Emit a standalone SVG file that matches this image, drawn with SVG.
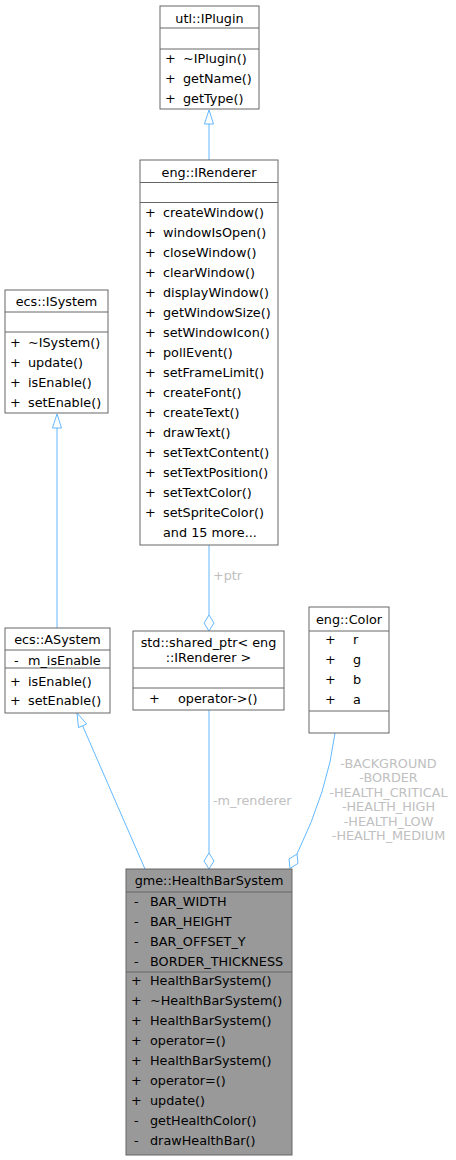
<svg xmlns="http://www.w3.org/2000/svg" width="456" height="1160" viewBox="0 0 456 1160">
<style>
text{font-family:"DejaVu Sans","Liberation Sans",sans-serif;font-size:12.8px;fill:#000}
.c{text-anchor:middle}
.box{fill:#fff;stroke:#666;stroke-width:1}
.cur{fill:#999;stroke:#666;stroke-width:1}
.sep{stroke:#666;stroke-width:1}
.e{fill:none;stroke:#63b8ff;stroke-width:1}
.ah{fill:#fff;stroke:#63b8ff;stroke-width:1}
.lbl{fill:#c0c0c0;text-anchor:middle}
.lbs{fill:#c0c0c0}
</style>
<g id="connectors">
  <line class="e" x1="209" y1="160" x2="209" y2="124"/>
  <polygon class="ah" points="209,110 213.5,124 204.5,124"/>
  <line class="e" x1="57" y1="628" x2="57" y2="428"/>
  <polygon class="ah" points="57,414 61.5,428 52.5,428"/>
  <line class="e" x1="145" y1="869" x2="82.6" y2="725.8"/>
  <polygon class="ah" points="77,713 86.7,724 78.5,727.6"/>
  <line class="e" x1="209" y1="545" x2="209" y2="615"/>
  <polygon class="ah" points="209,631 214,623 209,615 204,623"/>
  <text class="lbs" x="213" y="579.5">+ptr</text>
  <line class="e" x1="209" y1="710" x2="209" y2="853"/>
  <polygon class="ah" points="209,869 214,861 209,853 204,861"/>
  <text class="lbs" x="213" y="804.5">-m_renderer</text>
  <path class="e" d="M335,733 Q328,790 297,854"/>
  <polygon class="ah" points="297,854 298,863.4 290,868.4 289,859"/>
  <text class="lbl" x="388.5" y="767.5">-BACKGROUND</text>
  <text class="lbl" x="388.5" y="781.5">-BORDER</text>
  <text class="lbl" x="388.5" y="796.5">-HEALTH_CRITICAL</text>
  <text class="lbl" x="388.5" y="810.5">-HEALTH_HIGH</text>
  <text class="lbl" x="388.5" y="825.5">-HEALTH_LOW</text>
  <text class="lbl" x="388.5" y="839.5">-HEALTH_MEDIUM</text>
</g>
<g id="IPlugin">
  <rect class="box" x="160" y="6" width="99" height="103"/>
  <line class="sep" x1="160" y1="28" x2="259" y2="28"/>
  <line class="sep" x1="160" y1="49" x2="259" y2="49"/>
  <text class="c" x="209.5" y="22.5">utl::IPlugin</text>
  <text x="165" y="62.5">+</text><text x="183" y="62.5">~IPlugin()</text>
  <text x="165" y="82.5">+</text><text x="183" y="82.5">getName()</text>
  <text x="165" y="102.5">+</text><text x="183" y="102.5">getType()</text>
</g>
<g id="IRenderer">
  <rect class="box" x="140" y="160" width="138" height="385"/>
  <line class="sep" x1="140" y1="182.5" x2="278" y2="182.5"/>
  <line class="sep" x1="140" y1="202.5" x2="278" y2="202.5"/>
  <text class="c" x="209" y="177">eng::IRenderer</text>
  <text x="145" y="216.5">+</text><text x="163" y="216.5">createWindow()</text>
  <text x="145" y="236.5">+</text><text x="163" y="236.5">windowIsOpen()</text>
  <text x="145" y="256.5">+</text><text x="163" y="256.5">closeWindow()</text>
  <text x="145" y="276.5">+</text><text x="163" y="276.5">clearWindow()</text>
  <text x="145" y="296.5">+</text><text x="163" y="296.5">displayWindow()</text>
  <text x="145" y="316.5">+</text><text x="163" y="316.5">getWindowSize()</text>
  <text x="145" y="336.5">+</text><text x="163" y="336.5">setWindowIcon()</text>
  <text x="145" y="356.5">+</text><text x="163" y="356.5">pollEvent()</text>
  <text x="145" y="376.5">+</text><text x="163" y="376.5">setFrameLimit()</text>
  <text x="145" y="396.5">+</text><text x="163" y="396.5">createFont()</text>
  <text x="145" y="416.5">+</text><text x="163" y="416.5">createText()</text>
  <text x="145" y="436.5">+</text><text x="163" y="436.5">drawText()</text>
  <text x="145" y="456.5">+</text><text x="163" y="456.5">setTextContent()</text>
  <text x="145" y="476.5">+</text><text x="163" y="476.5">setTextPosition()</text>
  <text x="145" y="496.5">+</text><text x="163" y="496.5">setTextColor()</text>
  <text x="145" y="516.5">+</text><text x="163" y="516.5">setSpriteColor()</text>
  <text x="163" y="536.5">and 15 more...</text>
</g>
<g id="ISystem">
  <rect class="box" x="5" y="290" width="103" height="123"/>
  <line class="sep" x1="5" y1="312" x2="108" y2="312"/>
  <line class="sep" x1="5" y1="332" x2="108" y2="332"/>
  <text class="c" x="56.5" y="306">ecs::ISystem</text>
  <text x="10" y="346.5">+</text><text x="28" y="346.5">~ISystem()</text>
  <text x="10" y="366.5">+</text><text x="28" y="366.5">update()</text>
  <text x="10" y="386.5">+</text><text x="28" y="386.5">isEnable()</text>
  <text x="10" y="406.5">+</text><text x="28" y="406.5">setEnable()</text>
</g>
<g id="ASystem">
  <rect class="box" x="5" y="628" width="105" height="85"/>
  <line class="sep" x1="5" y1="650" x2="110" y2="650"/>
  <line class="sep" x1="5" y1="668" x2="110" y2="668"/>
  <text class="c" x="57.5" y="644">ecs::ASystem</text>
  <text x="14" y="664.5">-</text><text x="28" y="664.5">m_isEnable</text>
  <text x="10" y="685.5">+</text><text x="28" y="685.5">isEnable()</text>
  <text x="10" y="704.5">+</text><text x="28" y="704.5">setEnable()</text>
</g>
<g id="SharedPtr">
  <rect class="box" x="133" y="631" width="151" height="79"/>
  <line class="sep" x1="133" y1="668" x2="284" y2="668"/>
  <line class="sep" x1="133" y1="688" x2="284" y2="688"/>
  <text class="c" x="208.5" y="646.5">std::shared_ptr&lt; eng</text>
  <text class="c" x="208.5" y="661.5">::IRenderer &gt;</text>
  <text x="149" y="702.5">+</text><text x="178" y="702.5">operator-&gt;()</text>
</g>
<g id="Color">
  <rect class="box" x="309" y="607" width="80" height="126"/>
  <line class="sep" x1="309" y1="631" x2="389" y2="631"/>
  <line class="sep" x1="309" y1="711" x2="389" y2="711"/>
  <text class="c" x="349" y="623.5">eng::Color</text>
  <text x="325" y="643.5">+</text><text x="353" y="643.5">r</text>
  <text x="325" y="663.5">+</text><text x="353" y="663.5">g</text>
  <text x="325" y="683.5">+</text><text x="353" y="683.5">b</text>
  <text x="325" y="703.5">+</text><text x="353" y="703.5">a</text>
</g>
<g id="HealthBarSystem">
  <rect class="cur" x="126" y="869" width="166" height="286"/>
  <line class="sep" x1="126" y1="892" x2="292" y2="892"/>
  <line class="sep" x1="126" y1="972" x2="292" y2="972"/>
  <text class="c" x="209" y="885">gme::HealthBarSystem</text>
  <text x="134" y="905.5">-</text><text x="150" y="905.5">BAR_WIDTH</text>
  <text x="134" y="925.5">-</text><text x="150" y="925.5">BAR_HEIGHT</text>
  <text x="134" y="945.5">-</text><text x="150" y="945.5">BAR_OFFSET_Y</text>
  <text x="134" y="965.5">-</text><text x="150" y="965.5">BORDER_THICKNESS</text>
  <text x="131" y="984.5">+</text><text x="150" y="984.5">HealthBarSystem()</text>
  <text x="131" y="1004.5">+</text><text x="150" y="1004.5">~HealthBarSystem()</text>
  <text x="131" y="1024.5">+</text><text x="150" y="1024.5">HealthBarSystem()</text>
  <text x="131" y="1044.5">+</text><text x="150" y="1044.5">operator=()</text>
  <text x="131" y="1064.5">+</text><text x="150" y="1064.5">HealthBarSystem()</text>
  <text x="131" y="1084.5">+</text><text x="150" y="1084.5">operator=()</text>
  <text x="131" y="1104.5">+</text><text x="150" y="1104.5">update()</text>
  <text x="134" y="1124.5">-</text><text x="150" y="1124.5">getHealthColor()</text>
  <text x="134" y="1144.5">-</text><text x="150" y="1144.5">drawHealthBar()</text>
</g>
</svg>
